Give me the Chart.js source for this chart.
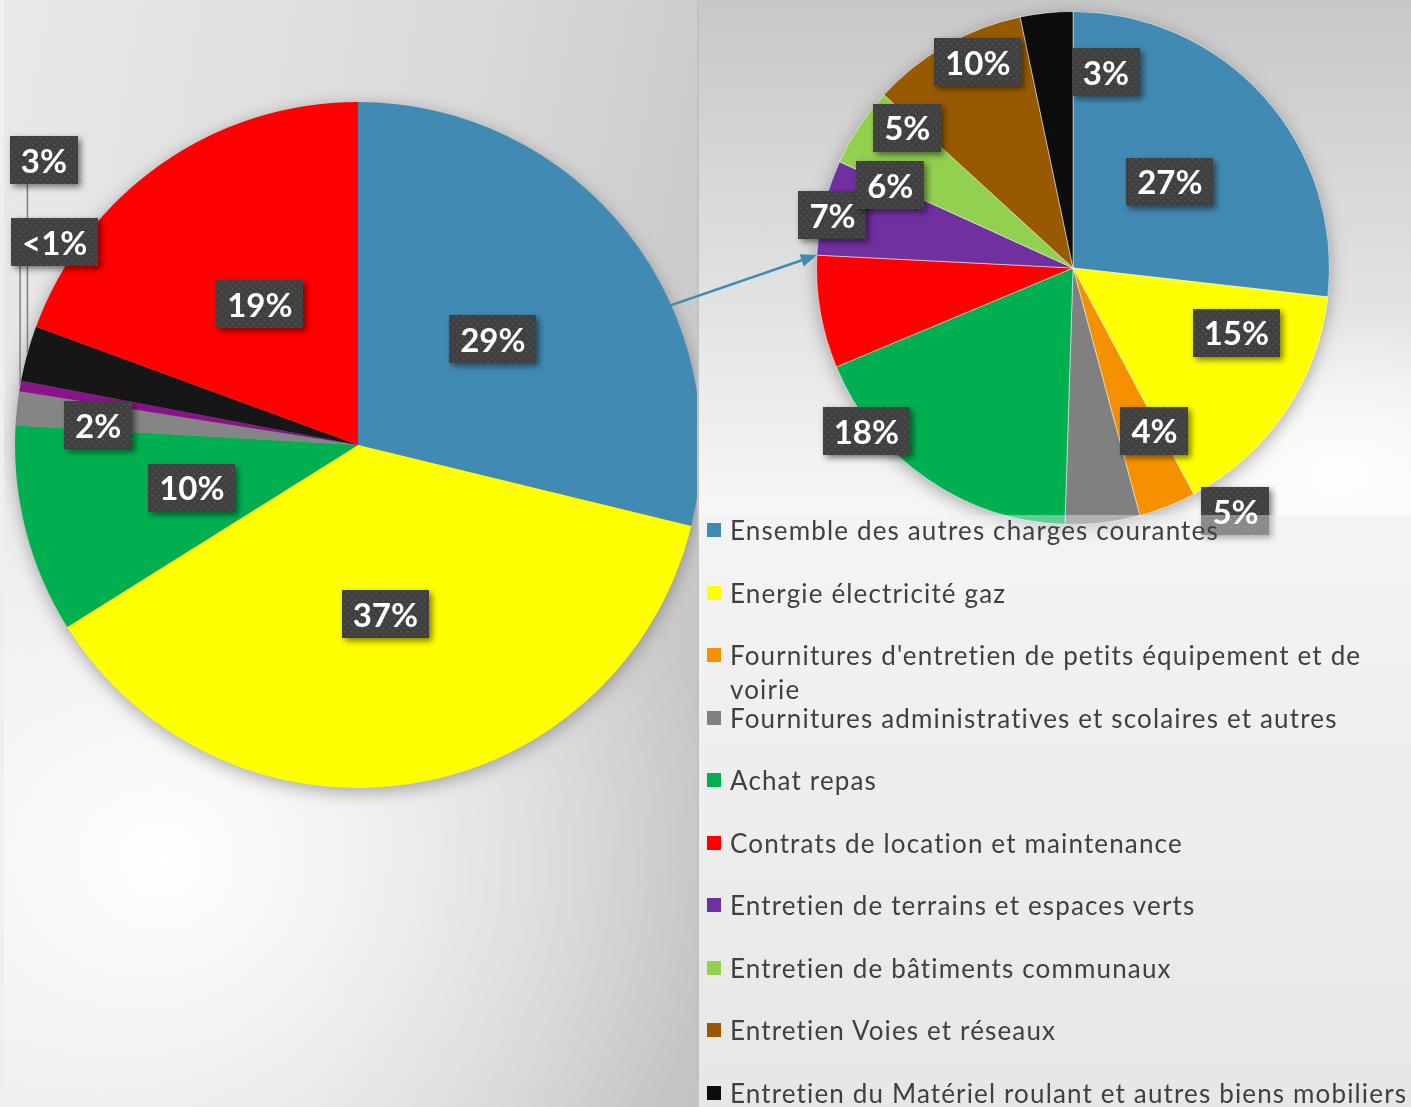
<!DOCTYPE html>
<html lang="fr">
<head>
<meta charset="utf-8">
<script src="https://cdn.jsdelivr.net/npm/chart.js@4.4.1/dist/chart.umd.min.js"></script>
<style>
  html, body { margin:0; padding:0; width:1411px; height:1107px; overflow:hidden; font-family: Lato, "Noto Sans", sans-serif; }
  #leftPanel { position:absolute; left:0; top:0; width:697px; height:1107px; overflow:hidden; z-index:1;
    background:
      radial-gradient(ellipse 560px 520px at 160px 860px, rgba(255,255,255,1) 0%, rgba(255,255,255,0.55) 45%, rgba(255,255,255,0) 100%),
      linear-gradient(100deg, #e9e9e9 0%, #d9d9d9 55%, #c3c3c3 100%);
    border-left:4px solid #efefef; box-sizing:border-box; }
  #leftCanvas { position:absolute; left:-4px; top:0; }
  #rightPanel { position:absolute; left:697px; top:0; width:714px; height:1107px; z-index:1;
    background: linear-gradient(to bottom, #f0f0f0 47%, #dadada 100%);
    border-left:2px solid #c2c2c2; box-sizing:border-box; }
  #rightTop { position:absolute; left:699px; top:0; width:712px; height:515px; z-index:2;
    background:
      radial-gradient(ellipse 260px 160px at 640px 470px, rgba(255,255,255,0.9) 0%, rgba(255,255,255,0) 100%),
      linear-gradient(to bottom, #c8c8c8 0%, #dedede 50%, #f7f7f7 100%); }
  #rightCanvas { position:absolute; left:697px; top:0; z-index:3; }
  #legendBox { position:absolute; left:699px; top:515px; width:712px; height:592px; z-index:4;
    background: rgba(250,250,250,0.4); }
  .item { position:absolute; left:8px; width:720px; font-size:26px; line-height:34px; color:#404040; letter-spacing:1.15px; }
  .item .sw { position:absolute; left:0; top:10px; width:14px; height:14px; }
  .item .tx { display:block; margin-left:23px; width:690px; }
  #arrowLayer { position:absolute; left:0; top:0; z-index:5; pointer-events:none; }
</style>
</head>
<body>
<div id="leftPanel"><canvas id="leftCanvas" width="724" height="1107"></canvas></div>
<div id="rightPanel"></div>
<div id="rightTop"></div>
<canvas id="rightCanvas" width="714" height="560"></canvas>
<div id="legendBox"></div>
<canvas id="arrowLayer" width="1411" height="1107"></canvas>
<script>
// right pie = detail of the "autres charges courantes"
const categories = [
  'Ensemble des autres charges courantes',
  'Energie électricité gaz',
  "Fournitures d'entretien de petits équipement et de voirie",
  'Fournitures administratives et scolaires et autres',
  'Achat repas',
  'Contrats de location et maintenance',
  'Entretien de terrains et espaces verts',
  'Entretien de bâtiments communaux',
  'Entretien Voies et réseaux',
  'Entretien du Matériel roulant et autres biens mobiliers'
];
const rightValues = [26.8, 15.4, 3.6, 4.7, 18.2, 7.1, 6.0, 5.0, 9.9, 3.3];
const rightColors = ['#418ab3', '#ffff00', '#f59100', '#808080', '#00b050', '#ff0000', '#7030a0', '#92d050', '#975a00', '#0d0d0d'];

// left pie
const leftCategories = [
  'Ensemble des autres charges courantes',
  'Energie électricité gaz',
  'Achat repas',
  'Fournitures administratives et scolaires et autres',
  'Entretien de terrains et espaces verts',
  'Entretien du Matériel roulant et autres biens mobiliers',
  'Contrats de location et maintenance'
];
const leftValues = [28.8, 37.3, 9.8, 1.6, 0.5, 2.6, 19.4];
const leftColors = ['#418ab3', '#ffff00', '#00b050', '#858585', '#8a138a', '#161616', '#ff0000'];

// dotted texture for label boxes
const tile = document.createElement('canvas');
tile.width = 7; tile.height = 7;
const tc = tile.getContext('2d');
tc.fillStyle = '#404040'; tc.fillRect(0, 0, 7, 7);
tc.fillStyle = '#575757'; tc.fillRect(1, 1, 1.5, 1.5); tc.fillRect(4.5, 4.5, 1.5, 1.5);

const pieShadow = {
  id: 'pieShadow',
  beforeDatasetsDraw(chart) {
    const a = chart.getDatasetMeta(0).data[0];
    const ctx = chart.ctx;
    ctx.save();
    ctx.shadowColor = 'rgba(0,0,0,0.35)';
    ctx.shadowBlur = 18;
    ctx.shadowOffsetY = 4;
    ctx.fillStyle = '#999';
    ctx.beginPath();
    ctx.arc(a.x, a.y, a.outerRadius - 1, 0, Math.PI * 2);
    ctx.fill();
    ctx.restore();
  }
};

const boxLabels = {
  id: 'boxLabels',
  afterDatasetsDraw(chart, args, opts) {
    const ctx = chart.ctx;
    const meta = chart.getDatasetMeta(0);
    const vals = chart.data.datasets[0].data;
    const total = vals.reduce((a, b) => a + b, 0);
    ctx.save();
    ctx.font = 'bold 33px Lato';
    const boxes = meta.data.map((arc, i) => {
      const p = opts.place[i] || {off: 0, r: 0.5};
      const mid = (arc.startAngle + arc.endAngle) / 2;
      const ang = mid + p.off * Math.PI / 180;
      const cx = arc.x + Math.cos(ang) * arc.outerRadius * p.r;
      const cy = arc.y + Math.sin(ang) * arc.outerRadius * p.r;
      const pct = vals[i] / total * 100;
      const txt = pct < 1 ? '<1%' : Math.round(pct) + '%';
      const w = ctx.measureText(txt).width + 22;
      return {cx, cy, w, h: 48, txt, lead: p.lead,
        ex: arc.x + Math.cos(mid) * arc.outerRadius, ey: arc.y + Math.sin(mid) * arc.outerRadius};
    });
    // leader lines first
    ctx.strokeStyle = '#7f7f7f';
    ctx.lineWidth = 1.5;
    boxes.forEach(b => {
      if (!b.lead) return;
      const sx = Math.min(Math.max(b.ex, b.cx - b.w / 2 + 4), b.cx + b.w / 2 - 4);
      ctx.beginPath();
      ctx.moveTo(sx, b.cy + b.h / 2);
      ctx.lineTo(b.ex, b.ey);
      ctx.stroke();
    });
    const pat = ctx.createPattern(tile, 'repeat');
    boxes.forEach(b => {
      const x = Math.round(b.cx - b.w / 2), y = Math.round(b.cy - b.h / 2);
      ctx.save();
      ctx.shadowColor = 'rgba(0,0,0,0.5)';
      ctx.shadowBlur = 6;
      ctx.shadowOffsetX = 3;
      ctx.shadowOffsetY = 3;
      ctx.fillStyle = pat;
      ctx.fillRect(x, y, Math.round(b.w), b.h);
      ctx.restore();
      ctx.fillStyle = '#ffffff';
      ctx.textAlign = 'center';
      ctx.textBaseline = 'middle';
      ctx.fillText(b.txt, b.cx, b.cy + 2);
    });
    ctx.restore();
  }
};

const leftChart = new Chart(document.getElementById('leftCanvas'), {
  type: 'pie',
  data: {
    labels: leftCategories,
    datasets: [{ data: leftValues, backgroundColor: leftColors, borderWidth: 0 }]
  },
  options: {
    responsive: false,
    animation: false,
    events: [],
    layout: { padding: { left: 15, right: 23, top: 102, bottom: 319 } },
    plugins: {
      legend: { display: false },
      tooltip: { enabled: false },
      boxLabels: {
        place: [
          {off: 0, r: 0.5}, {off: 0, r: 0.5}, {off: 0, r: 0.5},
          {off: -1.7, r: 0.76},
          {off: 23.9, r: 1.064, lead: true},
          {off: 26.7, r: 1.236, lead: true},
          {off: 0, r: 0.5}
        ]
      }
    }
  },
  plugins: [pieShadow, boxLabels]
});

const rightChart = new Chart(document.getElementById('rightCanvas'), {
  type: 'pie',
  data: {
    labels: categories,
    datasets: [{ data: rightValues, backgroundColor: rightColors, borderWidth: 1, borderColor: 'rgba(255,255,255,0.5)' }]
  },
  options: {
    responsive: false,
    animation: false,
    events: [],
    layout: { padding: { left: 119, right: 81, top: 11, bottom: 35 } },
    plugins: {
      legend: { display: false },
      tooltip: { enabled: false },
      boxLabels: {
        place: [
          {off: 0, r: 0.506}, {off: -12.6, r: 0.685}, {off: -5, r: 0.71},
          {off: -27.1, r: 1.14}, {off: 17.1, r: 1.027}, {off: 22.3, r: 0.96},
          {off: 10.7, r: 0.782}, {off: 6.8, r: 0.847}, {off: 4.9, r: 0.885},
          {off: 15.5, r: 0.773}
        ]
      }
    }
  },
  plugins: [pieShadow, boxLabels]
});

// legend (html), one fixed slot per category
const legendBox = document.getElementById('legendBox');
categories.forEach((c, i) => {
  const it = document.createElement('div');
  it.className = 'item';
  it.style.top = (-2 + 62.55 * i) + 'px';
  it.innerHTML = '<span class="sw" style="background:' + rightColors[i] + '"></span><span class="tx"></span>';
  it.querySelector('.tx').textContent = c;
  legendBox.appendChild(it);
});

// arrow from the big blue slice to the detail pie
const actx = document.getElementById('arrowLayer').getContext('2d');
const la = leftChart.getDatasetMeta(0).data[0];
const a1 = la.startAngle + 0.636 * (la.endAngle - la.startAngle);
const x1 = la.x + Math.cos(a1) * la.outerRadius, y1 = la.y + Math.sin(a1) * la.outerRadius;
const ra = rightChart.getDatasetMeta(0).data[5];
const x2 = 697 + ra.x + Math.cos(ra.endAngle) * ra.outerRadius, y2 = ra.y + Math.sin(ra.endAngle) * ra.outerRadius;
const ang = Math.atan2(y2 - y1, x2 - x1);
actx.strokeStyle = '#418ab3';
actx.fillStyle = '#418ab3';
actx.lineWidth = 2.5;
actx.beginPath();
actx.moveTo(x1, y1);
actx.lineTo(x2 - Math.cos(ang) * 12, y2 - Math.sin(ang) * 12);
actx.stroke();
actx.beginPath();
actx.moveTo(x2, y2);
actx.lineTo(x2 - Math.cos(ang) * 16 + Math.sin(ang) * 6.5, y2 - Math.sin(ang) * 16 - Math.cos(ang) * 6.5);
actx.lineTo(x2 - Math.cos(ang) * 16 - Math.sin(ang) * 6.5, y2 - Math.sin(ang) * 16 + Math.cos(ang) * 6.5);
actx.closePath();
actx.fill();
</script>
</body>
</html>
